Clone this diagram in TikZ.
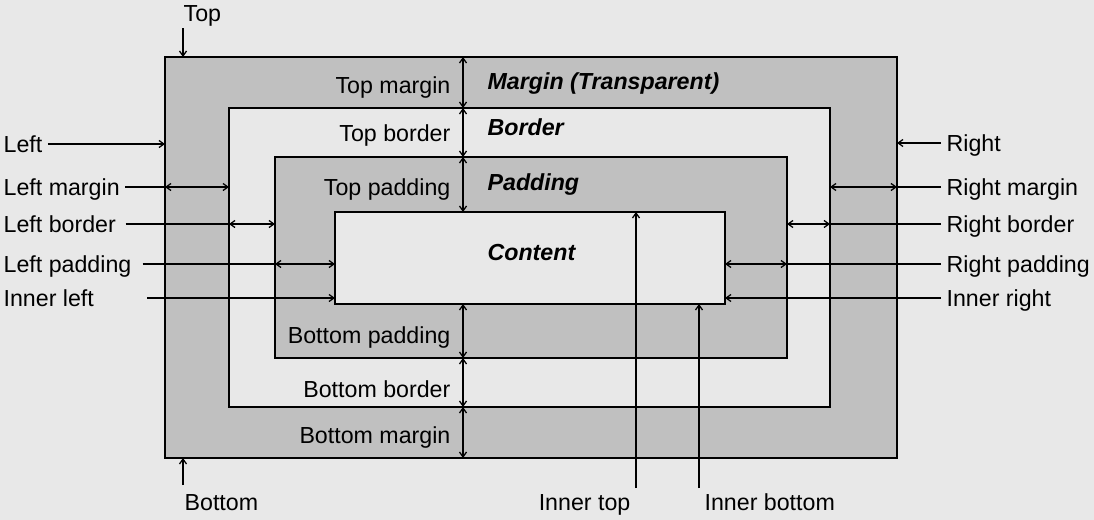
\documentclass[tikz,border=0pt]{standalone}
\usepackage{fontspec}
\setmainfont{Liberation Sans}
\usetikzlibrary{arrows.meta,calc}

\definecolor{bggray}{RGB}{232,232,232}
\definecolor{boxgray}{RGB}{192,192,192}

\tikzset{
  lbl/.style={inner sep=1pt, outer sep=3pt, text height=11.8pt, text depth=0pt,
    font=\fontsize{16.5}{19}\selectfont},
  boldlbl/.style={lbl, font=\fontsize{16.5}{19}\selectfont\bfseries\itshape},
  boxline/.style={draw=black, line width=1.3pt},
  lead/.style={line width=0.9pt},
  arr/.style={lead, -{Straight Barb[length=3.5pt,width=5pt]}},
  dim/.style={lead, {Straight Barb[length=3.5pt,width=5pt]}-{Straight Barb[length=3.5pt,width=5pt]}},
}

\begin{document}
\begin{tikzpicture}[x=0.025cm, y=-0.025cm]
  % Background and bounding box
  \fill[bggray] (0,0) rectangle (1094,520);
  \useasboundingbox (0,0) rectangle (1094,520);

  % Nested boxes
  \path[boxline, fill=boxgray] (165,57) coordinate (mtl) rectangle (897,458) coordinate (mbr);
  \path[boxline, fill=bggray] (229,108) coordinate (btl) rectangle (830,407) coordinate (bbr);
  \path[boxline, fill=boxgray] (275,157) coordinate (ptl) rectangle (787,358) coordinate (pbr);
  \path[boxline, fill=bggray] (335,212) coordinate (ctl) rectangle (725,304) coordinate (cbr);

  % Region names
  \node[boldlbl, anchor=west] (nmargin) at (482,81) {Margin (Transparent)};
  \node[boldlbl, anchor=west] (nborder) at (482,127) {Border};
  \node[boldlbl, anchor=west] (npadding) at (482,182) {Padding};
  \node[boldlbl, anchor=west] (ncontent) at (482,252) {Content};

  % Vertical dimensions
  \coordinate (vx) at (463,0);
  \draw[dim] (vx |- mtl) -- (vx |- btl);
  \draw[dim] (vx |- btl) -- (vx |- ptl);
  \draw[dim] (vx |- ptl) -- (vx |- ctl);
  \draw[dim] (vx |- cbr) -- (vx |- pbr);
  \draw[dim] (vx |- pbr) -- (vx |- bbr);
  \draw[dim] (vx |- bbr) -- (vx |- mbr);

  \node[lbl, anchor=east] (topm) at (456,85) {Top margin};
  \node[lbl, anchor=east] (topb) at (456,133) {Top border};
  \node[lbl, anchor=east] (topp) at (456,187) {Top padding};
  \node[lbl, anchor=east] (botp) at (456,335) {Bottom padding};
  \node[lbl, anchor=east] (botb) at (456,389) {Bottom border};
  \node[lbl, anchor=east] (botm) at (456,435) {Bottom margin};

  % Left side
  \node[lbl, anchor=west] (lleft) at (-2,144) {Left};
  \node[lbl, anchor=west] (lmarg) at (-2,187) {Left margin};
  \node[lbl, anchor=west] (lbord) at (-2,224) {Left border};
  \node[lbl, anchor=west] (lpadd) at (-2,264) {Left padding};
  \node[lbl, anchor=west] (linner) at (-2,298) {Inner left};

  \draw[arr] (lleft) -- (lleft -| mtl);
  \draw[lead] (lmarg) -- (lmarg -| mtl);
  \draw[dim] (lmarg -| mtl) -- (lmarg -| btl);
  \draw[lead, shorten <=3pt] (lbord) -- (lbord -| btl);
  \draw[dim] (lbord -| btl) -- (lbord -| ptl);
  \draw[lead, shorten <=4pt] (lpadd) -- (lpadd -| ptl);
  \draw[dim] (lpadd -| ptl) -- (lpadd -| ctl);
  \draw[arr, shorten <=34pt] (linner) -- (linner -| ctl);

  % Right side
  \node[lbl, anchor=west] (rright) at (941,143) {Right};
  \node[lbl, anchor=west] (rmarg) at (941,187) {Right margin};
  \node[lbl, anchor=west] (rbord) at (941,224) {Right border};
  \node[lbl, anchor=west] (rpadd) at (941,264) {Right padding};
  \node[lbl, anchor=west] (rinner) at (941,298) {Inner right};

  \draw[arr] (rright) -- (rright -| mbr);
  \draw[lead] (rmarg) -- (rmarg -| mbr);
  \draw[dim] (rmarg -| bbr) -- (rmarg -| mbr);
  \draw[lead] (rbord) -- (rbord -| bbr);
  \draw[dim] (rbord -| pbr) -- (rbord -| bbr);
  \draw[lead] (rpadd) -- (rpadd -| pbr);
  \draw[dim] (rpadd -| cbr) -- (rpadd -| pbr);
  \draw[arr] (rinner) -- (rinner -| cbr);

  % Top and bottom
  \node[lbl, anchor=west] (ltop) at (178,13) {Top};
  \coordinate (topstart) at (183,28);
  \draw[arr] (topstart) -- (topstart |- mtl);

  \node[lbl, anchor=west] (lbottom) at (179,502) {Bottom};
  \coordinate (botstart) at (183,485);
  \draw[arr] (botstart) -- (botstart |- mbr);

  % Inner top and inner bottom
  \node[lbl, anchor=north east] (itop) at (636,488) {Inner top};
  \draw[arr] (itop.north east) -- (itop.north east |- ctl);
  \node[lbl, anchor=north west] (ibottom) at (699,488) {Inner bottom};
  \draw[arr] (ibottom.north west) -- (ibottom.north west |- cbr);
\end{tikzpicture}
\end{document}
